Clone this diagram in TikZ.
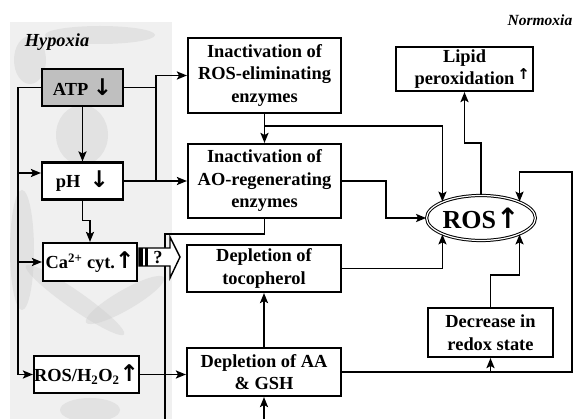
\documentclass[tikz,border=0pt]{standalone}
\usepackage{fontspec}
\setmainfont{Liberation Serif}
\newfontfamily\arrowfont{DejaVu Sans}
\usetikzlibrary{shapes.geometric,arrows.meta}
\newcommand{\upar}{{\arrowfont\bfseries\fontsize{23}{23}\selectfont ↑}}
\newcommand{\dnar}{{\arrowfont\bfseries\fontsize{23}{23}\selectfont ↓}}

\begin{document}
\begin{tikzpicture}[x=1pt,y=-1pt]
        \tikzstyle{every node}=[inner sep=0pt, align=center, font=\bfseries\fontsize{18.4}{22.5}\selectfont]
        \tikzstyle{box}=[draw, line width=2.1pt, fill=white]
        \tikzstyle{arr}=[line width=1.8pt, -{Stealth[length=10pt,width=8pt,inset=2pt]}]
        \tikzstyle{ln}=[line width=1.8pt]
        \tikzstyle{blob}=[gray!40, opacity=.38]
        \clip (0,0) rectangle (573,419);
        % hypoxia backdrop
        \fill[gray!12] (10,22) rectangle (172,419);
        \fill[blob] (100,35) ellipse [x radius=55pt, y radius=9pt];
        \fill[blob] (30,60) ellipse [x radius=16pt, y radius=24pt];
        \fill[blob] (82,135) ellipse [x radius=26pt, y radius=30pt];
        \fill[blob] (22,250) ellipse [x radius=12pt, y radius=60pt];
        \fill[blob, rotate around={-35:(75,300)}] (75,300) ellipse [x radius=60pt, y radius=9pt];
        \fill[blob, rotate around={30:(125,300)}] (125,300) ellipse [x radius=45pt, y radius=10pt];
        \fill[blob] (90,410) ellipse [x radius=30pt, y radius=12pt];
        \node[font=\bfseries\itshape\fontsize{18.4}{20}\selectfont] (hyp) at (57,42) {Hypoxia};
        \node[font=\bfseries\itshape\fontsize{15.5}{18}\selectfont] (nor) at (540,20) {Normoxia};
        % hypoxia boxes
        \node[box, fill=gray!50, minimum width=81pt, minimum height=37pt] (atp) at (82.5,87.5) {ATP \dnar};
        \node[box, minimum width=81pt, minimum height=37pt] (ph) at (82.5,181) {pH \ \dnar};
        \node[box, minimum width=94pt, minimum height=38pt] (ca) at (90,262) {Ca\textsuperscript{2+} cyt.\upar};
        \node[box, minimum width=105pt, minimum height=37pt] (ros2) at (86.5,374.5) {ROS/H\textsubscript{2}O\textsubscript{2}\upar};
        % middle column
        \node[box, minimum width=153pt, minimum height=75pt] (ine) at (264.5,75.5) {Inactivation of\\ROS-eliminating\\enzymes};
        \node[box, minimum width=153pt, minimum height=74pt] (inr) at (264.5,181) {Inactivation of\\AO-regenerating\\enzymes};
        \node[box, minimum width=154pt, minimum height=47pt] (toc) at (264,268.5) {Depletion of\\tocopherol};
        \node[box, minimum width=154pt, minimum height=48pt] (aa) at (264,372) {Depletion of AA\\\& GSH};
        % right column
        \node[box, minimum width=137pt, minimum height=44pt] (lip) at (464.5,69) {Lipid\\peroxidation\rlap{\,\raisebox{5pt}{\arrowfont\bfseries\fontsize{15}{15}\selectfont ↑}}};
        \node[draw, ellipse, double, double distance=1.2pt, line width=1pt, fill=white, minimum width=104pt, minimum height=45pt, font=\bfseries\fontsize{26}{30}\selectfont] (ros) at (481,218) {ROS{\arrowfont\fontsize{28}{28}\selectfont ↑}};
        \node[box, minimum width=125pt, minimum height=49pt] (red) at (490.5,332.5) {Decrease in\\redox state};
        % connectors
        \draw[arr] (atp.west) -- ++(-23,0) coordinate (lft) |- (ros2.west);
        \path ([yshift=8pt]ph.west) coordinate (phin);
        \draw[arr] (lft |- phin) -- (phin);
        \draw[arr] (lft |- ca.west) -- (ca.west);
        \draw[arr] (atp.south) -- (ph.north);
        \draw[arr] (ph.south) -- ++(0,20) -| (ca.north);
        \draw[arr] (atp.east) -- ++(32,0) coordinate (jn) |- (ine.west);
        \draw[ln] (jn) |- (ph.east);
        \draw[arr] (ph.east) -- (inr.west);
        \draw[arr] (ros2.east) -- (ros2.east -| aa.west);
        \draw[arr] (ine.south) -- (inr.north);
        \draw[arr] ([yshift=-12pt]ine.south) -| (ros.157);
        \draw[arr] (inr.east) -- ++(44,0) |- (ros.west);
        \draw[arr] (inr.south) -- ++(0,15) -| (165,440) -| (aa.south);
        \draw[arr] (aa.north) -- (toc.south);
        \draw[arr] (toc.east) -| (ros.203);
        \draw[arr] (aa.east) -- ++(230,0) -- ++(0,-200) -| (ros.23);
        \draw[arr] (red.south |- aa.east) -- (red.south);
        \draw[arr] (red.north) -- ++(0,-32) -| (ros.-23);
        \draw[arr] (ros.north) -- ++(0,-52) -| (lip.south);
        % question arrow
        \draw[line width=1.4pt, fill=white] (139,248) -- (170,248) -- (170,237) -- (180,257) -- (170,278) -- (170,266) -- (139,266) -- cycle;
        \fill (139,248) rectangle (142.5,266);
        \fill (144.5,248) rectangle (147.5,266);
        \node (qm) at (158,258) {?};
\end{tikzpicture}
\end{document}
